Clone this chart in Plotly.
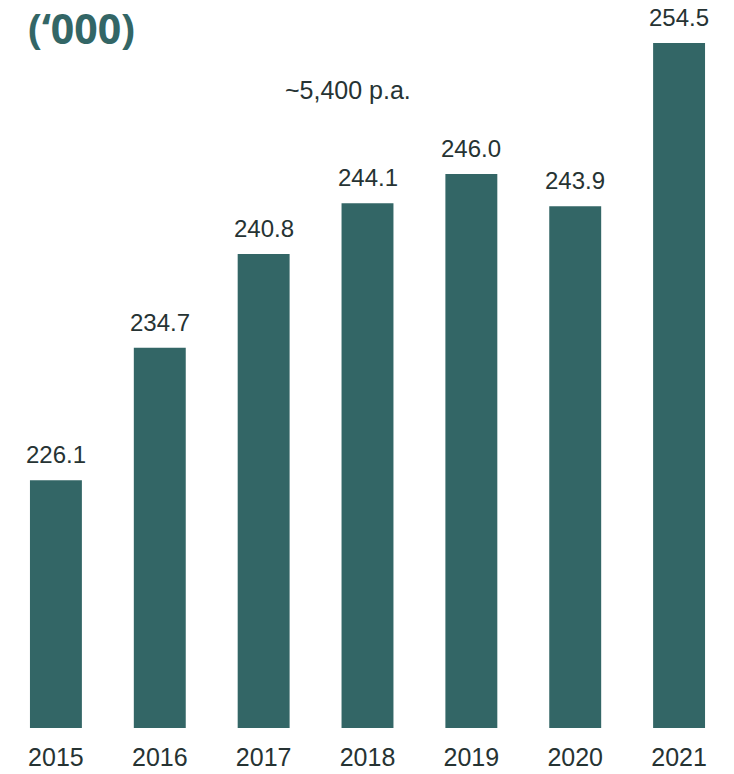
import plotly.graph_objects as go

years = ["2015", "2016", "2017", "2018", "2019", "2020", "2021"]
values = [226.1, 234.7, 240.8, 244.1, 246.0, 243.9, 254.5]
labels = ["226.1", "234.7", "240.8", "244.1", "246.0", "243.9", "254.5"]

BAR = "#336666"
TXT = "#263333"
FONT = "Liberation Sans, Arial"

fig = go.Figure(go.Bar(
    x=years, y=values,
    marker=dict(color=BAR, line=dict(width=0)),
    width=0.5, cliponaxis=False,
))

annotations = [
    dict(x=i, y=v, text=lab, xref="x", yref="y", showarrow=False,
         xanchor="center", yanchor="bottom", yshift=10,
         font=dict(family=FONT, size=24, color=TXT))
    for i, (v, lab) in enumerate(zip(values, labels))
]
annotations += [
    dict(text="(‘000)", xref="paper", yref="paper", x=0, y=1.0,
         xanchor="left", yanchor="top", showarrow=False, yshift=2, xshift=22,
         font=dict(family="Open Sans", size=41, color=BAR, weight="bold")),
    dict(text="~5,400 p.a.", xref="paper", yref="paper", x=(348-4)/727, y=1 - 90/728,
         xanchor="center", yanchor="middle", showarrow=False,
         font=dict(family=FONT, size=25, color=TXT)),
]

fig.update_layout(
    width=734, height=774,
    margin=dict(l=4, r=3, t=0, b=46),
    paper_bgcolor="white", plot_bgcolor="white",
    showlegend=False,
    xaxis=dict(type="category", range=[-0.5, len(years) - 0.5],
               showgrid=False, zeroline=False, showline=False, ticks="",
               ticklabelstandoff=12,
               tickfont=dict(family=FONT, size=25, color=TXT)),
    yaxis=dict(range=[210, 257.3], visible=False),
    annotations=annotations,
)

fig.write_html("out.html")
